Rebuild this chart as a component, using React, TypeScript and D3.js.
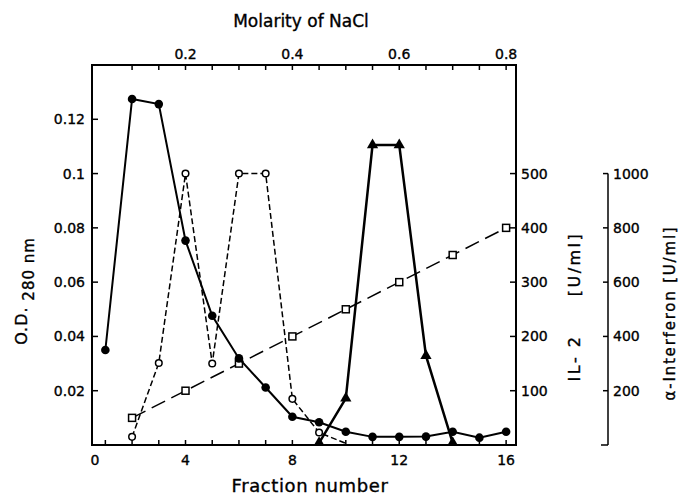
import React from "react";
import * as d3 from "d3";

// O.D. 280 nm, filled circles, fractions 1-16
const odFractions = [1, 2, 3, 4, 5, 6, 7, 8, 9, 10, 11, 12, 13, 14, 15, 16];
const od280 = [0.035, 0.1275, 0.1256, 0.0753, 0.0476, 0.0319, 0.0212, 0.0104, 0.0084, 0.0049, 0.003, 0.003, 0.0031, 0.0049, 0.0027, 0.0049];

// IL-2 activity, open circles
const il2Fractions = [2, 3, 4, 5, 6, 7, 8, 9, 10];
const il2Units = [15, 151, 500, 150, 500, 500, 85, 23, 3];

// alpha-interferon, filled triangles
const ifnFractions = [9, 10, 11, 12, 13, 14];
const ifnUnits = [8, 172, 1105, 1105, 329, 8];

// NaCl gradient, open squares
const saltFractions = [2, 4, 6, 8, 10, 12, 14, 16];
const saltMolarity = [0.1, 0.2, 0.3, 0.4, 0.5, 0.6, 0.7, 0.8];

const fractionTicks = [1, 2, 3, 4, 5, 6, 7, 8, 9, 10, 11, 12, 13, 14, 15, 16];
const fractionLabels = [4, 8, 12, 16];
const molarityTicks = [0.1, 0.15, 0.2, 0.25, 0.3, 0.35, 0.4, 0.45, 0.5, 0.55, 0.6, 0.65, 0.7, 0.75, 0.8];
const molarityLabels = [0.2, 0.4, 0.6, 0.8];
const odTicks = [0.02, 0.04, 0.06, 0.08, 0.1, 0.12];
const il2Ticks = [100, 200, 300, 400, 500];
const ifnTicks = [200, 400, 600, 800, 1000];

const W = 678, H = 498;
const L = 92, R = 516, T = 65, B = 445;
const IFN_X = 608;
const font = "DejaVu Sans";

export default function App() {
  const x = d3.scaleLinear().domain([0.5, 16.37]).range([L, R]);
  const molarity = d3.scaleLinear().domain(x.domain().map((f) => f * 0.05)).range([L, R]);
  const y = d3.scaleLinear().domain([0, 0.14]).range([B, T]);
  const yIl2 = d3.scaleLinear().domain([0, 700]).range([B, T]);
  const yIfn = d3.scaleLinear().domain([0, 1400]).range([B, T]);
  const ySalt = d3.scaleLinear().domain([0, 1.4]).range([B, T]);

  const line = d3.line<[number, number]>().x((d) => d[0]).y((d) => d[1]);

  const odPts: [number, number][] = odFractions.map((f, i) => [x(f), y(od280[i])]);
  const il2Pts: [number, number][] = il2Fractions.map((f, i) => [x(f), yIl2(il2Units[i])]);
  const ifnPts: [number, number][] = ifnFractions.map((f, i) => [x(f), yIfn(ifnUnits[i])]);
  const saltPts: [number, number][] = saltFractions.map((f, i) => [x(f), ySalt(saltMolarity[i])]);

  const tri = d3.symbol().type(d3.symbolTriangle).size(55)();

  return (
    <svg width={W} height={H} style={{ position: "fixed", left: 0, top: 0, background: "#fff" }}>
      <rect width={W} height={H} fill="#fff" />

      {/* frame */}
      <rect x={L} y={T} width={R - L} height={B - T} fill="none" stroke="#000" strokeWidth={2} />

      {/* ticks */}
      {fractionTicks.map((f) => (
        <line key={"bt" + f} x1={x(f)} x2={x(f)} y1={B} y2={B - 5} stroke="#000" strokeWidth={1.5} />
      ))}
      {molarityTicks.map((m) => (
        <line key={"tt" + m} x1={molarity(m)} x2={molarity(m)} y1={T} y2={T + 5} stroke="#000" strokeWidth={1.5} />
      ))}
      {odTicks.map((v) => (
        <line key={"ot" + v} x1={L} x2={L + 6} y1={y(v)} y2={y(v)} stroke="#000" strokeWidth={1.5} />
      ))}
      {il2Ticks.map((v) => (
        <line key={"it" + v} x1={R - 6} x2={R} y1={yIl2(v)} y2={yIl2(v)} stroke="#000" strokeWidth={1.5} />
      ))}

      {/* far right axis: alpha-interferon */}
      <line x1={IFN_X} x2={IFN_X} y1={yIfn(1000)} y2={yIfn(0)} stroke="#000" strokeWidth={1.5} />
      <line x1={IFN_X - 7} x2={IFN_X} y1={yIfn(0)} y2={yIfn(0)} stroke="#000" strokeWidth={1.5} />
      {ifnTicks.map((v) => (
        <line key={"ft" + v} x1={IFN_X - 5} x2={IFN_X} y1={yIfn(v)} y2={yIfn(v)} stroke="#000" strokeWidth={1.5} />
      ))}

      {/* all text, slightly heavier like the lettering of the original */}
      <g fontFamily={font} fill="#000" stroke="#000" strokeWidth={0.35}>
        <text x={L + 3} y={465} fontSize={14} textAnchor="middle">0</text>
        {fractionLabels.map((f) => (
          <text key={"bl" + f} x={x(f)} y={465} fontSize={14} textAnchor="middle">{f}</text>
        ))}
        <text x={310} y={492} fontSize={18} letterSpacing={0.6} textAnchor="middle">Fraction number</text>

        {molarityLabels.map((m) => (
          <text key={"tl" + m} x={molarity(m)} y={59} fontSize={14} textAnchor="middle">{String(m)}</text>
        ))}
        <text x={301} y={27} fontSize={17} textAnchor="middle">Molarity of NaCl</text>

        {odTicks.map((v) => (
          <text key={"ol" + v} x={85} y={y(v)} dy="0.36em" fontSize={14} textAnchor="end">{String(v)}</text>
        ))}
        <text transform="translate(27,291) rotate(-90)" fontSize={16} textAnchor="middle" letterSpacing={1}>
          O.D.<tspan dy={6.5} fontSize={15}> 280 nm</tspan>
        </text>

        {il2Ticks.map((v) => (
          <text key={"il" + v} x={521} y={yIl2(v)} dy="0.36em" fontSize={14}>{v}</text>
        ))}
        <text transform="translate(580,358) rotate(-90)" fontSize={16} textAnchor="middle" letterSpacing={2.5}>IL- 2</text>
        <text transform="translate(580,264) rotate(-90)" fontSize={16} textAnchor="middle" letterSpacing={2.5}>[U/ml]</text>

        {ifnTicks.map((v) => (
          <text key={"if" + v} x={613} y={yIfn(v)} dy="0.36em" fontSize={14}>{v}</text>
        ))}
        <text transform="translate(675,313) rotate(-90)" fontSize={15} textAnchor="middle" letterSpacing={1.8}>
          α-Interferon [U/ml]
        </text>
      </g>

      {/* salt gradient */}
      <path d={line(saltPts) ?? ""} fill="none" stroke="#000" strokeWidth={1.5} strokeDasharray="15,7" />
      {saltPts.map((p, i) => (
        <rect key={"s" + i} x={p[0] - 3.5} y={p[1] - 3.5} width={7} height={7} fill="#fff" stroke="#000" strokeWidth={1.5} />
      ))}

      {/* IL-2 */}
      <path d={line(il2Pts) ?? ""} fill="none" stroke="#000" strokeWidth={1.5} strokeDasharray="6,3" />
      {/* last point lies on the axis, drawn without a marker as in the original */}
      {il2Pts.slice(0, -1).map((p, i) => (
        <circle key={"c" + i} cx={p[0]} cy={p[1]} r={3.3} fill="#fff" stroke="#000" strokeWidth={1.5} />
      ))}

      {/* O.D. */}
      <path d={line(odPts) ?? ""} fill="none" stroke="#000" strokeWidth={2} />
      {odPts.map((p, i) => (
        <circle key={"o" + i} cx={p[0]} cy={p[1]} r={4.3} fill="#000" />
      ))}

      {/* alpha-interferon */}
      <path d={line(ifnPts) ?? ""} fill="none" stroke="#000" strokeWidth={2.5} />
      {ifnPts.map((p, i) => (
        <path key={"t" + i} d={tri ?? ""} transform={`translate(${p[0]},${p[1]})`} fill="#000" />
      ))}
    </svg>
  );
}
